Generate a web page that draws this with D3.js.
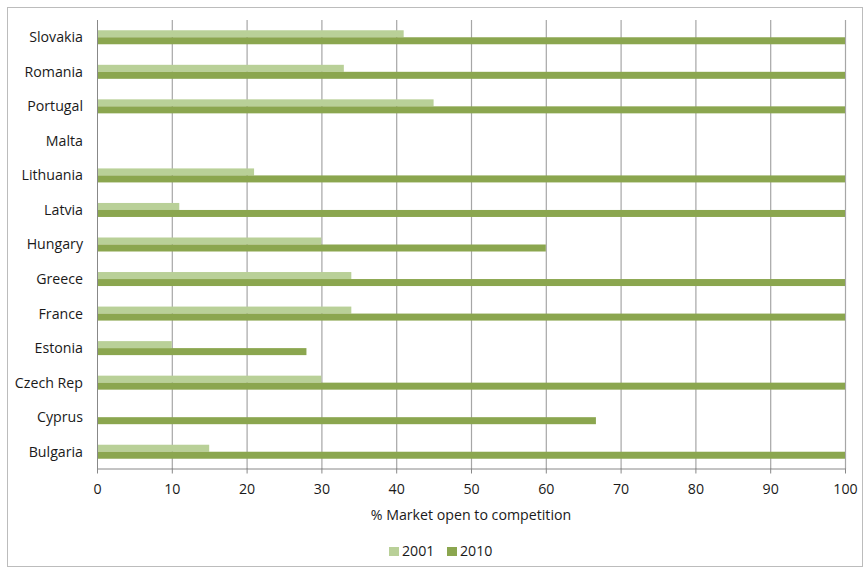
<!DOCTYPE html>
<html>
<head>
<meta charset="utf-8">
<script src="https://cdn.jsdelivr.net/npm/d3@7"></script>
<style>
  body { margin: 0; background: #fff; }
  text { font-family: "Open Sans", "Liberation Sans", Arial, sans-serif; fill: #1a1a1a; }
</style>
</head>
<body>
<script>
// data (top to bottom as drawn)
const countries = ["Slovakia", "Romania", "Portugal", "Malta", "Lithuania", "Latvia", "Hungary",
  "Greece", "France", "Estonia", "Czech Rep", "Cyprus", "Bulgaria"];
const values2001 = [41, 33, 45, 0, 21, 11, 30, 34, 34, 10, 30, 0, 15];
const values2010 = [100, 100, 100, 0, 100, 100, 60, 100, 100, 28, 100, 66.7, 100];
const seriesNames = ["2001", "2010"];
const xTicks = [0, 10, 20, 30, 40, 50, 60, 70, 80, 90, 100];

const width = 865, height = 570;
const colors = ["#b9d098", "#8ba64f"];
const fontSize = 14.2;

let svg = d3.select("body").append("svg")
  .attr("width", width)
  .attr("height", height);

// outer frame
svg.append("rect")
  .attr("x", 7.5).attr("y", 7.5)
  .attr("width", 855).attr("height", 559)
  .attr("fill", "none")
  .attr("stroke", "#bcbcbc");

let x = d3.scaleLinear().domain([0, 100]).range([97, 845]);
let y = d3.scaleBand().domain(countries).range([20, 469]).paddingInner(0).paddingOuter(0);
let y1 = d3.scaleBand().domain(seriesNames).range([y.bandwidth() / 2 - 7, y.bandwidth() / 2 + 7]);

// vertical gridlines
svg.append("g")
  .selectAll("line")
  .data(xTicks.slice(1))
  .enter().append("line")
  .attr("x1", d => x(d) + 0.5).attr("x2", d => x(d) + 0.5)
  .attr("y1", 20).attr("y2", 469)
  .attr("stroke", "#a6a6a6")
  .attr("stroke-width", 1.2);

// bars
let rows = countries.map((c, i) => ({ c: c, v: [values2001[i], values2010[i]] }));
let group = svg.append("g").selectAll("g")
  .data(rows)
  .enter().append("g")
  .attr("transform", d => "translate(0," + y(d.c) + ")");

group.selectAll("rect")
  .data(d => d.v.map((v, k) => ({ s: seriesNames[k], v: v, k: k })))
  .enter().append("rect")
  .filter(d => d.v > 0)
  .attr("x", x(0))
  .attr("y", d => y1(d.s))
  .attr("width", d => x(d.v) - x(0))
  .attr("height", y1.bandwidth())
  .attr("fill", d => colors[d.k]);

// y axis line and x axis
svg.append("line")
  .attr("x1", 97.5).attr("x2", 97.5)
  .attr("y1", 20).attr("y2", 469)
  .attr("stroke", "#888");

let xAxis = svg.append("g")
  .attr("transform", "translate(0,468.5)")
  .call(d3.axisBottom(x).tickValues(xTicks).tickSize(5).tickPadding(10).tickSizeOuter(0));
xAxis.select(".domain").attr("stroke", "#888");
xAxis.selectAll(".tick line").attr("stroke", "#888");
xAxis.selectAll(".tick text")
  .attr("font-size", fontSize)
  .attr("font-family", "Open Sans, Liberation Sans, Arial, sans-serif")
  .attr("fill", "#1a1a1a");

// category labels
svg.append("g").selectAll("text")
  .data(countries)
  .enter().append("text")
  .attr("x", 83)
  .attr("y", d => y(d) + y.bandwidth() / 2)
  .attr("dy", "0.35em")
  .attr("text-anchor", "end")
  .attr("font-size", fontSize)
  .text(d => d);

// axis title
svg.append("text")
  .attr("x", 471).attr("y", 520)
  .attr("text-anchor", "middle")
  .attr("font-size", fontSize)
  .text("% Market open to competition");

// legend
let legend = svg.append("g").selectAll("g")
  .data(seriesNames)
  .enter().append("g")
  .attr("transform", (d, i) => "translate(" + (389 + i * 58) + ",547)");
legend.append("rect")
  .attr("width", 10).attr("height", 9)
  .attr("fill", (d, i) => colors[i]);
legend.append("text")
  .attr("x", 13).attr("y", 4.5)
  .attr("dy", "0.35em")
  .attr("font-size", fontSize)
  .text(d => d);
</script>
</body>
</html>
